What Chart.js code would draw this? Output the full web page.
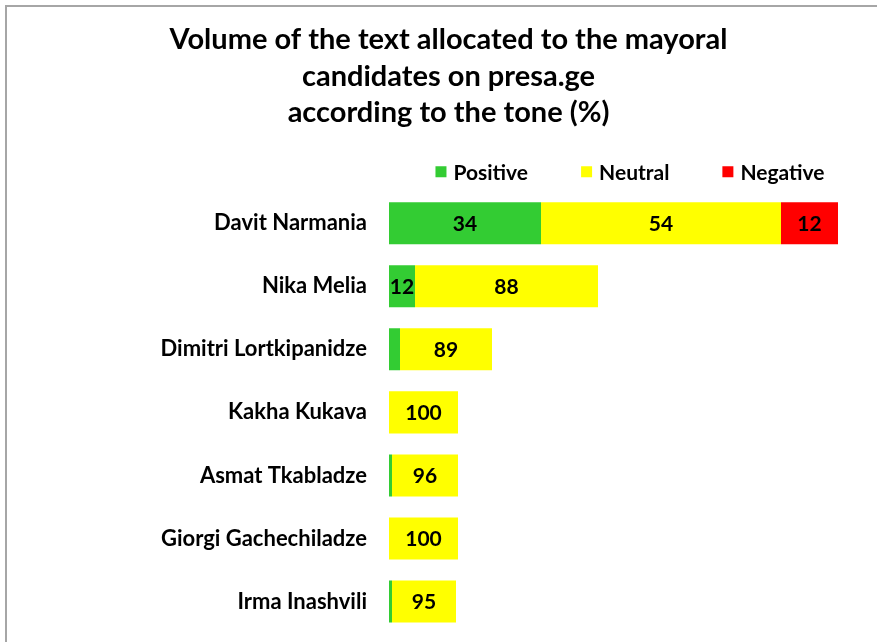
<!DOCTYPE html>
<html>
<head>
<meta charset="utf-8">
<script src="https://cdn.jsdelivr.net/npm/chart.js@4"></script>
<style>
  html, body { margin: 0; padding: 0; background: #fff; }
  #wrap { position: relative; width: 877px; height: 642px; }
  #frame {
    position: absolute; left: 5px; top: 5px; right: 0; bottom: 0;
    border-top: 2px solid #a6a6a6; border-left: 2px solid #a6a6a6;
    pointer-events: none;
  }
  canvas { display: block; }
</style>
</head>
<body>
<div id="wrap">
  <canvas id="chart" width="877" height="642"></canvas>
  <div id="frame"></div>
</div>
<script>
// Candidates, top to bottom
const candidates = [
  'Davit Narmania', 'Nika Melia', 'Dimitri Lortkipanidze', 'Kakha Kukava',
  'Asmat Tkabladze', 'Giorgi Gachechiladze', 'Irma Inashvili'
];

// Text volume per tone (bar lengths, arbitrary units)
const positiveVolume = [152, 26, 11, 0, 3, 0, 3];
const neutralVolume  = [240, 183, 92, 69, 66, 69, 64];
const negativeVolume = [57, 0, 0, 0, 0, 0, 0];

// Percent labels shown inside the bars
const positiveLabels = ['34', '12', '', '', '', '', ''];
const neutralLabels  = ['54', '88', '89', '100', '96', '100', '95'];
const negativeLabels = ['12', '', '', '', '', '', ''];

const FONT = 'Lato';
Chart.defaults.font.family = FONT;
Chart.defaults.color = '#000';

// Draw percent labels centred in every segment
const segmentLabels = {
  id: 'segmentLabels',
  afterDatasetsDraw(chart) {
    const ctx = chart.ctx;
    ctx.save();
    ctx.font = `bold 21px ${FONT}`;
    ctx.fillStyle = '#000';
    ctx.textAlign = 'center';
    ctx.textBaseline = 'middle';
    chart.data.datasets.forEach((ds, i) => {
      const meta = chart.getDatasetMeta(i);
      meta.data.forEach((bar, j) => {
        const txt = ds.labelsText[j];
        if (!txt) return;
        ctx.fillText(txt, (bar.x + bar.base) / 2, bar.y + 1);
      });
    });
    ctx.restore();
  }
};

// Simple legend row above the plot area
const topLegend = {
  id: 'topLegend',
  afterDraw(chart) {
    const ctx = chart.ctx;
    const area = chart.chartArea;
    const box = 11, gap = 7, spacing = 53;
    ctx.save();
    ctx.font = `bold 21px ${FONT}`;
    ctx.textBaseline = 'middle';
    const items = chart.data.datasets.map(ds => ({
      text: ds.label, color: ds.backgroundColor, w: ctx.measureText(ds.label).width
    }));
    const total = items.reduce((s, it) => s + box + gap + it.w, 0) + spacing * (items.length - 1);
    let x = (area.left + area.right) / 2 - 3 - total / 2;
    const y = area.top - 20;
    items.forEach(it => {
      ctx.fillStyle = it.color;
      ctx.fillRect(x, y - box / 2, box, box);
      ctx.fillStyle = '#000';
      ctx.fillText(it.text, x + box + gap, y + 1);
      x += box + gap + it.w + spacing;
    });
    ctx.restore();
  }
};

new Chart(document.getElementById('chart'), {
  type: 'bar',
  data: {
    labels: candidates,
    datasets: [
      { label: 'Positive', data: positiveVolume, labelsText: positiveLabels, backgroundColor: '#33cc33' },
      { label: 'Neutral',  data: neutralVolume,  labelsText: neutralLabels,  backgroundColor: '#ffff00' },
      { label: 'Negative', data: negativeVolume, labelsText: negativeLabels, backgroundColor: '#ff0000' }
    ]
  },
  options: {
    indexAxis: 'y',
    responsive: false,
    animation: false,
    categoryPercentage: 1,
    barPercentage: 0.667,
    layout: { padding: { left: 20, top: 14, right: 0, bottom: 9 } },
    scales: {
      x: { stacked: true, display: false, min: 0, max: 488 },
      y: {
        stacked: true,
        grid: { display: false, drawTicks: false },
        border: { display: false },
        ticks: { padding: 22, font: { size: 22, weight: 'bold' }, color: '#000' },
        afterFit(scale) {
          scale.width = 369;
          scale.paddingTop = 0;
          scale.paddingBottom = 0;
        }
      }
    },
    plugins: {
      legend: { display: false },
      tooltip: { enabled: false },
      title: {
        display: true,
        text: [
          'Volume of the text allocated to the mayoral',
          'candidates on presa.ge',
          'according to the tone (%)'
        ],
        color: '#000',
        font: { size: 29, weight: 'bold', lineHeight: 1.25 },
        padding: { top: 8, bottom: 61 }
      }
    }
  },
  plugins: [segmentLabels, topLegend]
});
</script>
</body>
</html>
